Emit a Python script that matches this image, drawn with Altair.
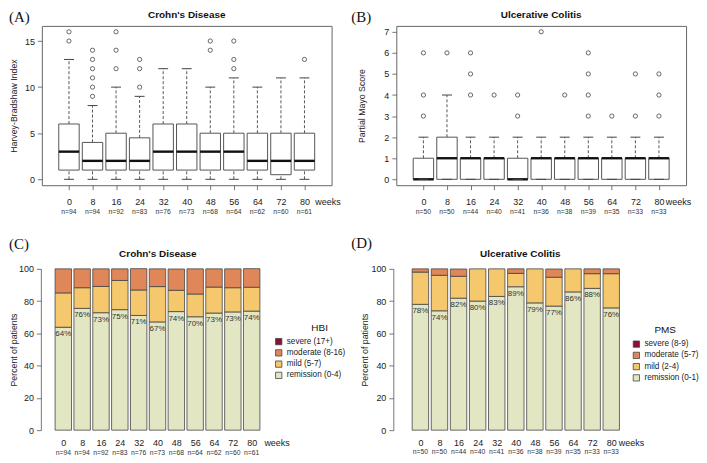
import altair as alt
import pandas as pd

FONT = "Liberation Sans"
SERIF = "Liberation Serif"

# ---------------- data ----------------
weeks = [0, 8, 16, 24, 32, 40, 48, 56, 64, 72, 80]
cd_n = [94, 94, 92, 83, 76, 73, 68, 64, 62, 60, 61]
uc_n = [50, 50, 44, 40, 41, 36, 38, 39, 35, 33, 33]

# (A) Harvey-Bradshaw Index box statistics
hbi_lo = [0, 0, 0, 0, 0, 0, 0, 0, 0, 0, 0]
hbi_q1 = [1, 1, 1, 1, 1, 1, 1, 1, 1, 0.5, 1]
hbi_med = [3, 2, 2, 2, 3, 3, 3, 3, 2, 2, 2]
hbi_q3 = [6, 4, 5, 4.5, 6, 6, 5, 5, 5, 5, 5]
hbi_hi = [13, 8, 10, 9, 12, 12, 10, 11, 10, 11, 11]
hbi_out_week = [0, 0, 8, 8, 8, 8, 8, 8, 16, 16, 16, 24, 24, 24, 48, 48, 56, 56, 56, 80]
hbi_out_val = [15, 16, 9, 10, 11, 12, 13, 14, 12, 14, 16, 10, 12, 13, 14, 15, 12, 13, 15, 13]

# (B) Partial Mayo Score box statistics
pms_lo = [0, 0, 0, 0, 0, 0, 0, 0, 0, 0, 0]
pms_q1 = [0, 0, 0, 0, 0, 0, 0, 0, 0, 0, 0]
pms_med = [0, 1, 1, 1, 0, 1, 1, 1, 1, 1, 1]
pms_q3 = [1, 2, 1, 1, 1, 1, 1, 1, 1, 1, 1]
pms_hi = [2, 4, 2, 2, 2, 2, 2, 2, 2, 2, 2]
pms_out_week = [0, 0, 0, 8, 16, 16, 16, 24, 32, 32, 40, 48, 56, 56, 56, 56, 64, 72, 72, 80, 80, 80]
pms_out_val = [3, 4, 6, 6, 4, 5, 6, 4, 3, 4, 7, 4, 3, 4, 5, 6, 3, 3, 5, 3, 4, 5]

# (C) HBI categories, percent of patients
hbi_cats = ["severe (17+)", "moderate (8-16)", "mild (5-7)", "remission (0-4)"]
hbi_remission = [63.8, 75.5, 72.8, 74.7, 71.1, 67.1, 73.5, 70.3, 72.6, 73.3, 73.8]
hbi_mild = [21.3, 12.8, 16.3, 18.1, 15.8, 21.9, 13.2, 14.1, 16.1, 15.0, 14.8]
hbi_moderate = [14.9, 11.7, 10.9, 7.2, 13.2, 11.0, 13.2, 15.6, 11.3, 11.7, 11.5]
hbi_severe = [0, 0, 0, 0, 0, 0, 0, 0, 0, 0, 0]

# (D) PMS categories, percent of patients
pms_cats = ["severe (8-9)", "moderate (5-7)", "mild (2-4)", "remission (0-1)"]
pms_remission = [78.0, 74.0, 81.8, 80.0, 82.9, 88.9, 78.9, 76.9, 85.7, 87.9, 75.8]
pms_mild = [20.0, 22.0, 13.6, 20.0, 17.1, 8.3, 21.1, 17.9, 14.3, 9.1, 21.2]
pms_moderate = [2.0, 4.0, 4.5, 0, 0, 2.8, 0, 5.1, 0, 3.0, 3.0]
pms_severe = [0, 0, 0, 0, 0, 0, 0, 0, 0, 0, 0]

cat_colors = ["#8C0F35", "#E0875A", "#F6C86D", "#E3E6C3"]


def label_layer(txt, x, y, size, font=FONT, **kw):
    return alt.Chart(pd.DataFrame({"t": [txt]})).mark_text(
        fontSize=size, font=font, **kw
    ).encode(text="t:N", x=alt.value(x), y=alt.value(y))


def box_panel(lo, q1, med, q3, hi, out_w, out_v, n, ydom, yticks, ytitle, title,
              tag, W, H, ytitle_x, tag_x, weeks_dx):
    stats = pd.DataFrame({"week": weeks, "lo": lo, "q1": q1, "med": med, "q3": q3, "hi": hi})
    outl = pd.DataFrame({"week": out_w, "value": out_v})
    nlab = pd.DataFrame({"week": weeks, "n": [f"n={v}" for v in n]})
    xs = alt.Scale(domain=[-7.52, 87.52], nice=False, zero=False)
    ys = alt.Scale(domain=ydom, nice=False, zero=False)
    xax = alt.Axis(values=weeks, title=None, grid=False, domain=False, tickSize=4.5,
                   tickColor="#555", tickWidth=0.8, labelPadding=8, labelFontSize=9,
                   labelColor="#222", labelFont=FONT, labelOverlap=False,
                   labelFlush=False, format="d")
    yax = alt.Axis(values=yticks, title=ytitle, grid=False, domain=False, tickSize=4.5,
                   tickColor="#555", tickWidth=0.8, labelPadding=3, labelFontSize=9,
                   labelColor="#222", labelFont=FONT, labelOverlap=False,
                   labelFlush=False, format="d", titleFont=FONT, titleFontSize=8.8,
                   titleFontWeight="normal", titleColor="#222", titleX=ytitle_x,
                   titleY=H / 2, titleBaseline="middle")
    X = alt.X("week:Q", scale=xs, axis=xax)

    def Y(f):
        return alt.Y(f, scale=ys, axis=yax)

    base = alt.Chart(stats)
    dash = dict(color="#444", strokeWidth=0.9, strokeDash=[3, 2])
    wu = base.mark_rule(**dash).encode(x=X, y=Y("q3:Q"), y2="hi:Q")
    wl = base.mark_rule(**dash).encode(x=X, y=Y("lo:Q"), y2="q1:Q")
    box = base.mark_bar(width=20.5, fill="white", stroke="#555", strokeWidth=1,
                        opacity=1).encode(x=X, y=Y("q1:Q"), y2="q3:Q")
    medl = base.mark_tick(orient="horizontal", size=20.5, thickness=2.4, color="#111",
                          opacity=1).encode(x=X, y=Y("med:Q"))
    cap_hi = base.mark_tick(orient="horizontal", size=10, thickness=1, color="#444",
                            opacity=1).encode(x=X, y=Y("hi:Q"))
    cap_lo = base.mark_tick(orient="horizontal", size=10, thickness=1, color="#444",
                            opacity=1).encode(x=X, y=Y("lo:Q"))
    pts = alt.Chart(outl).mark_point(shape="circle", filled=False, size=18, color="#444",
                                     strokeWidth=0.8, opacity=1).encode(x=X, y=Y("value:Q"))
    ntext = alt.Chart(nlab).mark_text(fontSize=6.8, font=FONT, color="#333",
                                      baseline="middle").encode(
        x=X, y=alt.value(H + 27), text="n:N")
    wk = alt.Chart(pd.DataFrame({"week": [88], "t": ["weeks"]})).mark_text(
        fontSize=9, font=FONT, color="#222", baseline="middle", dx=weeks_dx).encode(
        x=X, y=alt.value(H + 16.9), text="t:N")
    ttl = label_layer(title, W / 2, -7.5, 10, fontWeight="bold", align="center",
                      baseline="alphabetic", color="#111")
    tg = label_layer(tag, tag_x, -4, 15, font=SERIF, align="left",
                     baseline="alphabetic", color="#111")
    return alt.layer(wu, wl, box, medl, cap_hi, cap_lo, pts, ntext, wk, ttl, tg).properties(
        width=W, height=H,
        view=alt.ViewBackground(stroke="#666", strokeWidth=1, strokeOpacity=1))


def bar_panel(rem, mild, mod, sev, cats, n, W, H, xdom, title, tag, leg_title,
              ytitle_x, yoff, tag_x, tag_y, title_y, lab_pad, leg_x, leg_y,
              legt_x, legt_y, weeks_dx, weeks_y, n_y):
    rows = []
    for i, w in enumerate(weeks):
        for rank, (cat, vals) in enumerate(zip(cats[::-1], [rem, mild, mod, sev])):
            if vals[i] > 0:
                rows.append({"week": w, "category": cat, "pct": vals[i], "rank": rank})
    long = pd.DataFrame(rows)
    pl = pd.DataFrame({"week": weeks, "rem": rem,
                       "label": [f"{int(v + 0.5)}%" for v in rem]})
    nlab = pd.DataFrame({"week": weeks, "n": [f"n={v}" for v in n]})
    xs = alt.Scale(domain=xdom, nice=False, zero=False)
    ys = alt.Scale(domain=[0, 100], nice=False, zero=False)
    xax = alt.Axis(values=weeks, title=None, grid=False, domain=False, ticks=False,
                   tickSize=0, labelPadding=lab_pad, labelFontSize=9, labelColor="#222",
                   labelFont=FONT, labelOverlap=False, labelFlush=False, format="d")
    yax = alt.Axis(values=[0, 20, 40, 60, 80, 100], title="Percent of patients",
                   grid=False, domain=True, domainColor="#555", domainWidth=0.8,
                   tickSize=4.5, tickColor="#555", tickWidth=0.8, offset=yoff,
                   labelPadding=3, labelFontSize=9, labelColor="#222", labelFont=FONT,
                   labelOverlap=False, labelFlush=False, format="d", titleFont=FONT,
                   titleFontSize=8.8, titleFontWeight="normal", titleColor="#222",
                   titleX=ytitle_x, titleY=H / 2, titleBaseline="middle")
    X = alt.X("week:Q", scale=xs, axis=xax)
    bars = alt.Chart(long).mark_bar(width=16.5, stroke="#444", strokeWidth=0.8,
                                    opacity=1).encode(
        x=X,
        y=alt.Y("pct:Q", stack="zero", scale=ys, axis=yax),
        color=alt.Color("category:N", scale=alt.Scale(domain=cats, range=cat_colors),
                        legend=alt.Legend(title=None, orient="none", legendX=leg_x,
                                          legendY=leg_y, symbolType="square",
                                          symbolSize=40, symbolStrokeColor="#444",
                                          symbolStrokeWidth=0.8, symbolOpacity=1,
                                          labelFontSize=8.2, labelFont=FONT,
                                          labelColor="#222", labelOffset=4,
                                          rowPadding=1.3, padding=0)),
        order=alt.Order("rank:Q", sort="ascending"),
    )
    pct = alt.Chart(pl).mark_text(fontSize=8, font=FONT, color="#333", baseline="middle",
                                  dy=7).encode(
        x=X, y=alt.Y("rem:Q", scale=ys, axis=yax), text="label:N")
    ntext = alt.Chart(nlab).mark_text(fontSize=6.8, font=FONT, color="#333",
                                      baseline="middle").encode(
        x=X, y=alt.value(H + n_y), text="n:N")
    wk = alt.Chart(pd.DataFrame({"week": [80], "t": ["weeks"]})).mark_text(
        fontSize=9, font=FONT, color="#222", baseline="middle", dx=weeks_dx).encode(
        x=X, y=alt.value(H + weeks_y), text="t:N")
    ttl = label_layer(title, W / 2, title_y, 10, fontWeight="bold", align="center",
                      baseline="alphabetic", color="#111")
    tg = label_layer(tag, tag_x, tag_y, 15, font=SERIF, align="left",
                     baseline="alphabetic", color="#111")
    lt = label_layer(leg_title, legt_x, legt_y, 10, align="center", baseline="middle",
                     color="#111")
    return alt.layer(bars, pct, ntext, wk, ttl, tg, lt).properties(
        width=W, height=H, view=alt.ViewBackground(strokeWidth=0))


# legends are positioned within their own panel
panel_a = box_panel(hbi_lo, hbi_q1, hbi_med, hbi_q3, hbi_hi, hbi_out_week, hbi_out_val,
                    cd_n, [-0.64, 16.64], [0, 5, 10, 15], "Harvey-Bradshaw Index",
                    "Crohn's Disease", "(A)", 291, 160, -28.5, -33, 0)
panel_b = box_panel(pms_lo, pms_q1, pms_med, pms_q3, pms_hi, pms_out_week, pms_out_val,
                    uc_n, [-0.28, 7.28], [0, 1, 2, 3, 4, 5, 6, 7], "Partial Mayo Score",
                    "Ulcerative Colitis", "(B)", 291, 160, -35.3, -45.3, -4)
panel_c = bar_panel(hbi_remission, hbi_mild, hbi_moderate, hbi_severe, hbi_cats, cd_n,
                    233, 162, [-7.0, 87.3], "Crohn's Disease", "(C)", "HBI",
                    -27.5, 1, -33, -20.4, -11.7, 8.6, 233.8, 69, 279, 59, 25.5, 13, 23)
panel_d = bar_panel(pms_remission, pms_mild, pms_moderate, pms_severe, pms_cats, uc_n,
                    249, 162, [-8.01, 91.75], "Ulcerative Colitis", "(D)", "PMS",
                    -29, 3, -45.3, -21, -12, 8.2, 237, 71.5, 270, 61, 20.3, 12.6, 22)

chart = alt.concat(
    panel_a, panel_b, panel_c, panel_d,
    columns=2, spacing={"row": 82, "column": 65}, bounds="flush", align="all",
).resolve_scale(color="independent").properties(padding=0).configure(
    font=FONT).configure_view(strokeWidth=0)

chart.save("out.html", embed_options={"renderer": "svg", "actions": False})
